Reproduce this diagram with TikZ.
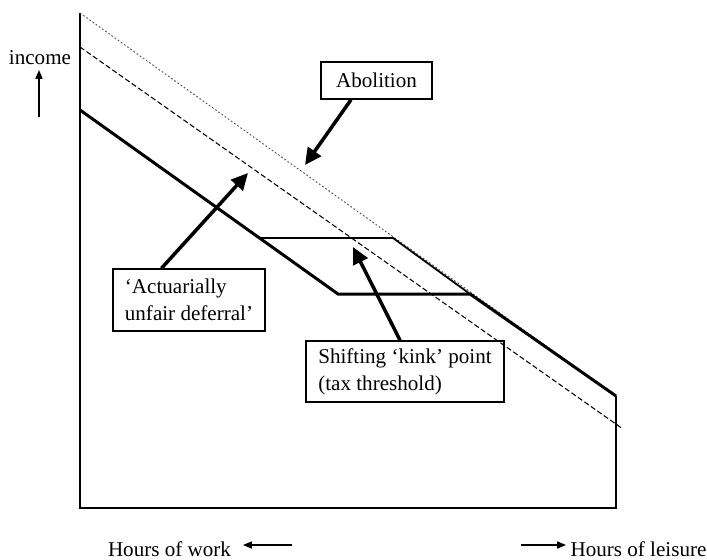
\documentclass[tikz,border=0pt]{standalone}
\usepackage{fontspec}
\setmainfont{Liberation Serif}
\usetikzlibrary{arrows.meta, positioning}

\begin{document}
\begin{tikzpicture}[
        x=0.02cm, y=-0.02cm,
        every node/.style={font=\fontsize{12}{15.5}\selectfont, inner sep=0pt},
        labelbox/.style={draw, line width=0.8pt, align=left},
        bigarrow/.style={line width=2pt, -{Triangle[length=9.5pt, width=9pt]}},
        smallarrow/.style={line width=0.6pt, -{Triangle[length=5pt, width=4pt]}},
        axisline/.style={line width=0.6pt},
        budget/.style={line width=1.7pt, line join=miter},
    ]
    \useasboundingbox (0,0) rectangle (707,559);

    % axes
    \coordinate (top) at (80,13);
    \coordinate (o) at (80,508);
    \coordinate (br) at (616,508);
    \coordinate (rend) at (616,396);
    \draw[axisline] (top) -- (o) -- (br) -- (rend);

    % budget lines
    \coordinate (d0) at (80,47);
    \coordinate (d1) at (623,429);
    \coordinate (b0) at (80,110);
    \coordinate (k1) at (259.5,238);
    \coordinate (k2) at (393,238);
    \coordinate (k3) at (338,294);
    \coordinate (k4) at (470,294);
    \draw[line width=0.5pt, black!70, dash pattern=on 1pt off 1.2pt] (top) -- (rend);
    \draw[line width=0.6pt, dash pattern=on 3pt off 1.5pt] (d0) -- (d1);
    \draw[budget] (b0) -- (k3) -- (k4) -- (rend);
    \draw[line width=1pt] (k1) -- (k2) -- (k4);

    % labels
    \node[labelbox, minimum width=2.22cm, minimum height=0.74cm] (abolition) at (376.5,80.5) {Abolition};
    \node[labelbox, minimum width=3.04cm, minimum height=1.24cm] (deferral) at (189,300) {‘Actuarially\\unfair deferral’};
    \node[labelbox, minimum width=3.96cm, minimum height=1.22cm] (kink) at (405,371.5) {Shifting ‘kink’ point\\(tax threshold)};

    \coordinate (abotip) at (305,165);
    \coordinate (deftip) at (248,173);
    \coordinate (kinktip) at (353,247);
    \draw[bigarrow] (abolition.217) -- (abotip);
    \draw[bigarrow] (deferral.131) -- (deftip);
    \draw[bigarrow] (kink.99) -- (kinktip);

    % axis titles
    \node (income) at (40,57.5) {income};
    \coordinate (incfoot) at (39,117);
    \coordinate (inctip) at (39,70);
    \draw[smallarrow] (incfoot) -- (inctip);

    \node (work) at (169.5,549.5) {Hours of work};
    \coordinate (worktail) at (292,545);
    \coordinate (worktip) at (243,545);
    \draw[smallarrow] (worktail) -- (worktip);

    \node (leisure) at (638.5,549.5) {Hours of leisure};
    \coordinate (leistail) at (521,545);
    \coordinate (leistip) at (566,545);
    \draw[smallarrow] (leistail) -- (leistip);
\end{tikzpicture}
\end{document}
